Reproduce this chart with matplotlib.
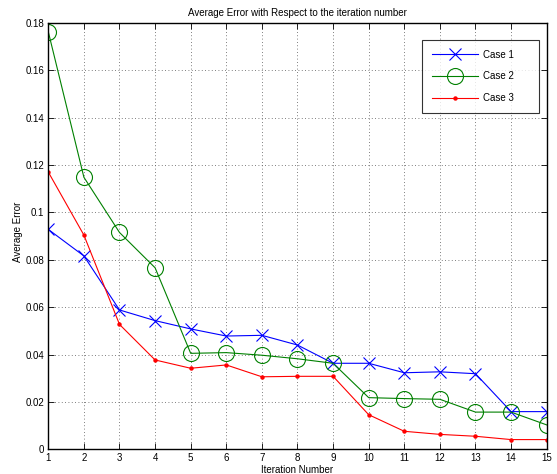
import numpy as np
import matplotlib
matplotlib.use("Agg")
import matplotlib.pyplot as plt

plt.rcParams['font.family'] = ['Liberation Sans', 'DejaVu Sans']

# data
iterations = np.arange(1, 16)
case1 = [0.0928, 0.0816, 0.0588, 0.0543, 0.0508, 0.0478, 0.0481, 0.0440,
         0.0363, 0.0363, 0.0323, 0.0327, 0.0319, 0.0159, 0.0159]
case2 = [0.1762, 0.1148, 0.0915, 0.0766, 0.0405, 0.0408, 0.0397, 0.0382,
         0.0363, 0.0218, 0.0214, 0.0211, 0.0157, 0.0157, 0.0103]
case3 = [0.1170, 0.0904, 0.0527, 0.0377, 0.0342, 0.0356, 0.0306, 0.0308,
         0.0308, 0.0146, 0.0076, 0.0063, 0.0055, 0.0041, 0.0041]
labels = ['Case 1', 'Case 2', 'Case 3']

fig = plt.figure(figsize=(5.57, 4.74), dpi=100)
ax = fig.add_axes([0.0867, 0.0521, 0.8948, 0.8999])

ax.plot(iterations, case1, color=(0, 0, 1), lw=0.8, marker='x',
        markersize=9, markeredgewidth=0.8, label=labels[0])
ax.plot(iterations, case2, color=(0, 0.5, 0), lw=0.8, marker='o',
        markersize=11.5, markerfacecolor='none', markeredgewidth=0.8,
        label=labels[1])
ax.plot(iterations, case3, color=(1, 0, 0), lw=0.8, marker='o',
        markersize=3.2, markeredgewidth=0, label=labels[2])

ax.set_xlim(1, 15)
ax.set_ylim(0, 0.18)
ax.set_xticks(iterations)
ax.set_yticks(np.arange(0, 0.181, 0.02))
ax.set_yticklabels(['0', '0.02', '0.04', '0.06', '0.08', '0.1', '0.12',
                    '0.14', '0.16', '0.18'])
ax.tick_params(direction='in', top=True, right=True, labelsize=7,
               length=4, width=0.6, pad=3)
for s in ax.spines.values():
    s.set_linewidth(1.0)
ax.grid(True, linestyle=(0, (1, 3)), color='#555555', lw=0.6)

ax.set_title('Average Error with Respect to the iteration number',
             fontsize=7, pad=5)
ax.set_xlabel('Iteration Number', fontsize=7, labelpad=1)
ax.set_ylabel('Average Error', fontsize=7)
ax.yaxis.set_label_coords(-0.05, 0.51)

leg = ax.legend(loc='upper right',
                bbox_to_anchor=(0.7498, 0.7955, 0.2347, 0.164),
                mode='expand', fontsize=7,
                frameon=True, fancybox=False, edgecolor='black',
                borderpad=1.0, labelspacing=1.2, handlelength=4.8,
                handletextpad=0.5, borderaxespad=0)
leg.get_frame().set_linewidth(0.8)

fig.savefig('out.png', dpi=100)
